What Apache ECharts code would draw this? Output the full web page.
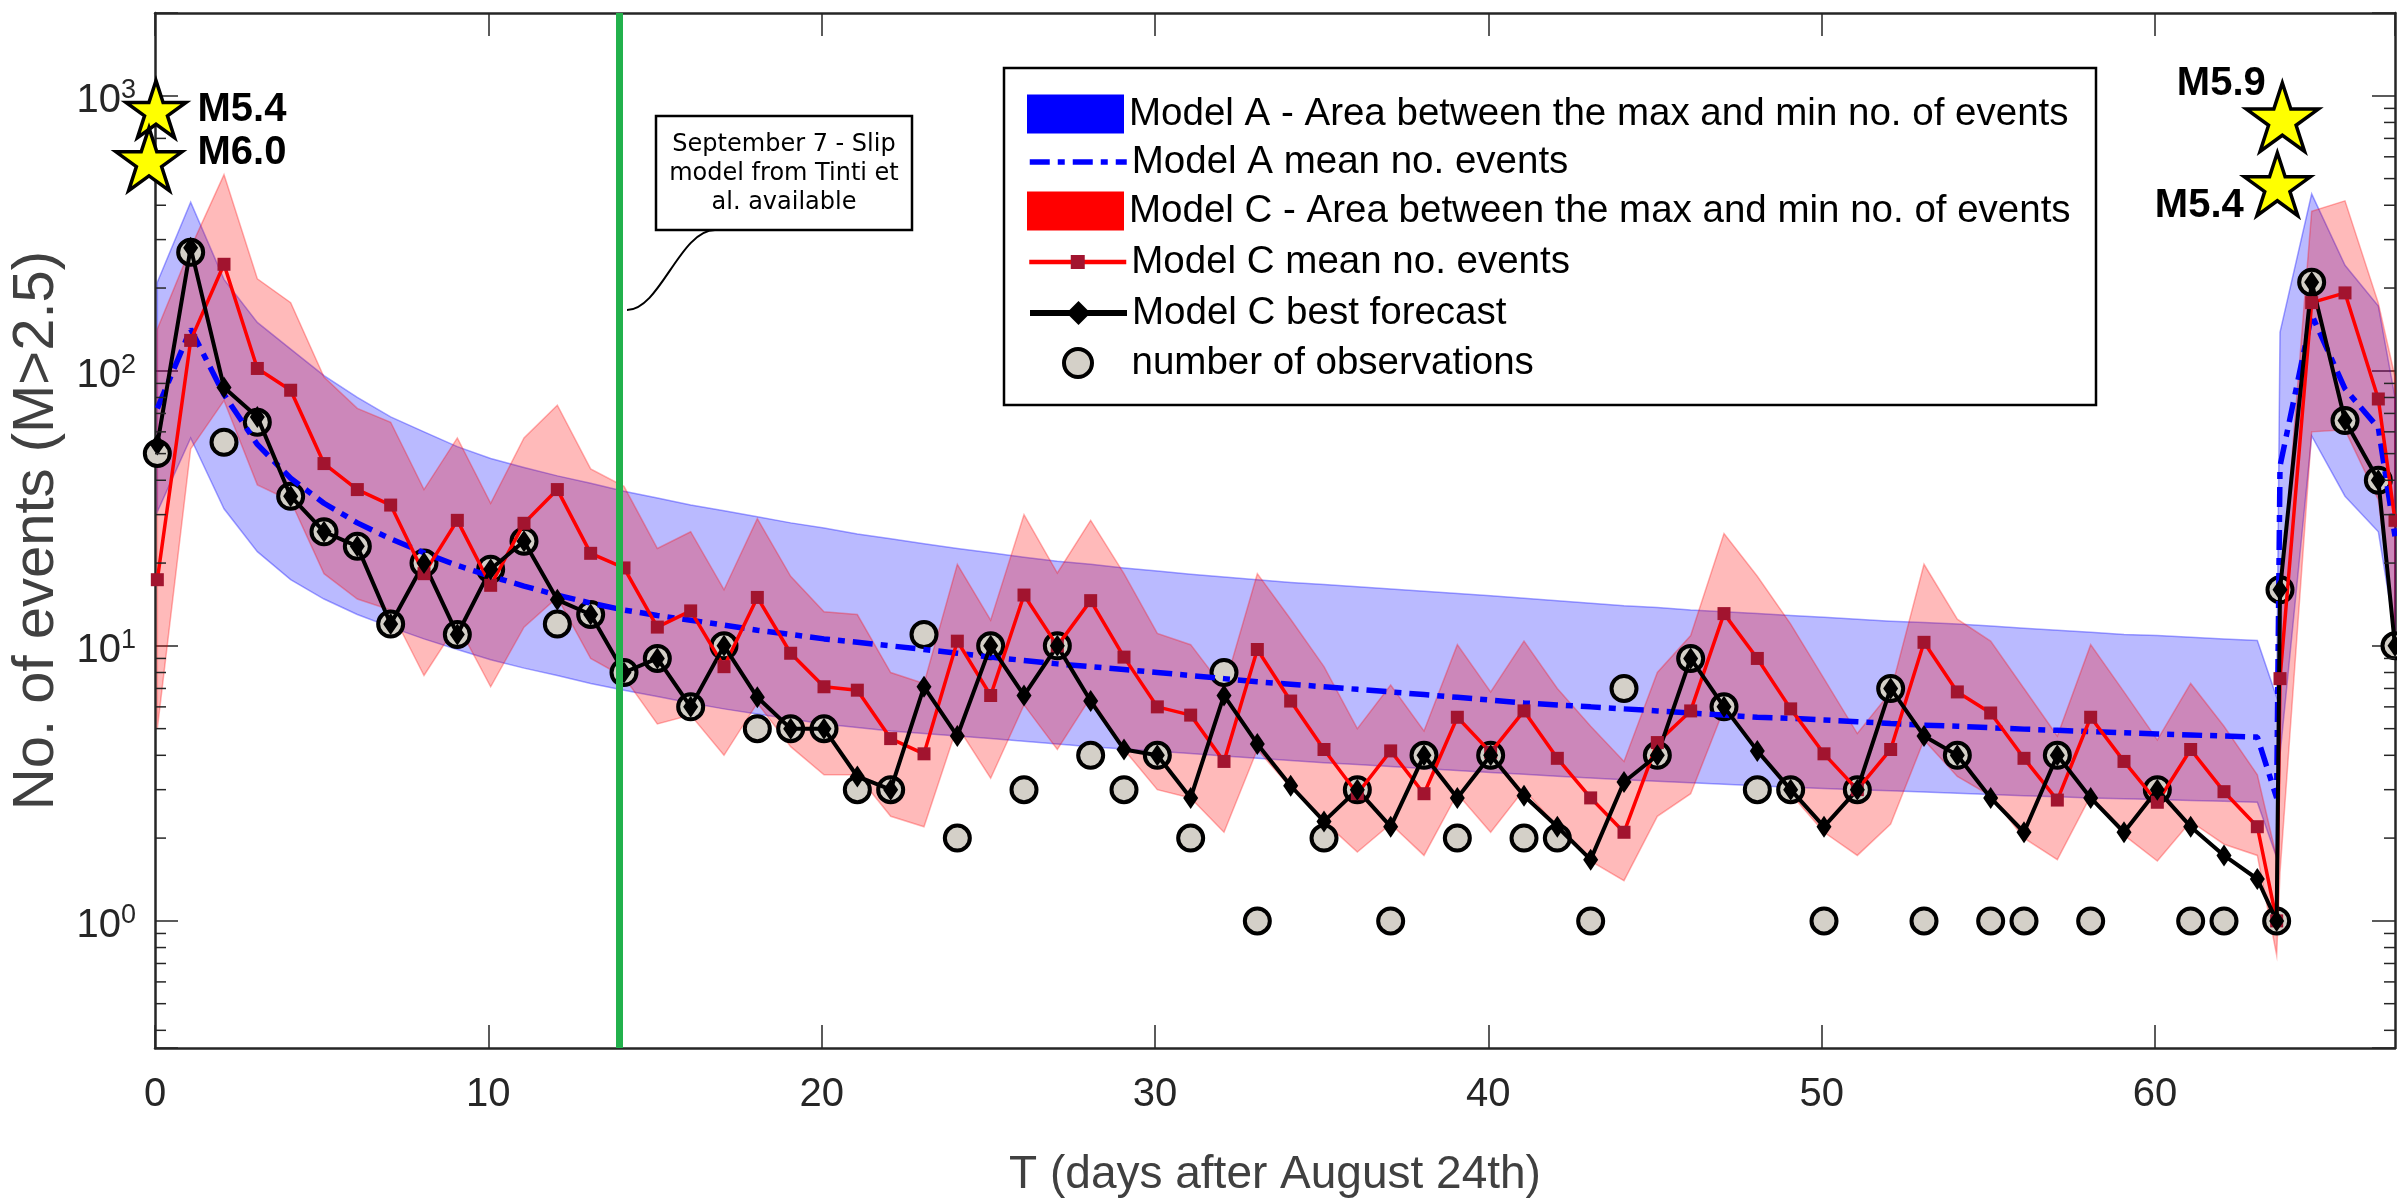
<!DOCTYPE html>
<html lang="en">
<head>
    <meta charset="UTF-8">
    <title>Model A / Model C forecasts</title>
    <script src="https://cdn.jsdelivr.net/npm/echarts@6/dist/echarts.min.js"></script>
</head>
<body style="margin: 0; background: #fff">
<div id="container" style="width: 2397px; height: 1201px"></div>

<script type="text/javascript">
    // time of each bin, days after August 24th
    var days = [0.07, 1.07, 2.07, 3.07, 4.07, 5.07, 6.07, 7.07, 8.07, 9.07,
        10.07, 11.07, 12.07, 13.07, 14.07, 15.07, 16.07, 17.07, 18.07, 19.07,
        20.07, 21.07, 22.07, 23.07, 24.07, 25.07, 26.07, 27.07, 28.07, 29.07,
        30.07, 31.07, 32.07, 33.07, 34.07, 35.07, 36.07, 37.07, 38.07, 39.07,
        40.07, 41.07, 42.07, 43.07, 44.07, 45.07, 46.07, 47.07, 48.07, 49.07,
        50.07, 51.07, 52.07, 53.07, 54.07, 55.07, 56.07, 57.07, 58.07, 59.07,
        60.07, 61.07, 62.07, 63.07, 63.65, 63.75, 64.7, 65.7, 66.7, 67.2];

    // number of observed events (null = none)
    var observed = [50, 270, 55, 65, 35, 26, 23, 12, 20, 11,
        19, 24, 12, 13, 8, 9, 6, 10, 5, 5,
        5, 3, 3, 11, 2, 10, 3, 10, 4, 3,
        4, 2, 8, 1, null, 2, 3, 1, 4, 2,
        4, 2, 2, 1, 7, 4, 9, 6, 3, 3,
        1, 3, 7, 1, 4, 1, 1, 4, 1, null,
        3, 1, 1, null, 1, 16, 210, 66, 40, 10];

    var modelCMean = [17.4, 129, 244, 102, 85, 46, 37, 32.5, 18.3, 28.6,
        16.6, 27.9, 37, 21.7, 19.2, 11.7, 13.4, 8.4, 15, 9.4,
        7.1, 6.9, 4.6, 4.05, 10.4, 6.6, 15.3, 10, 14.6, 9.1,
        6.0, 5.6, 3.8, 9.7, 6.3, 4.2, 2.9, 4.15, 2.9, 5.5,
        4.1, 5.8, 3.9, 2.8, 2.1, 4.45, 5.8, 13.1, 9.0, 5.9,
        4.05, 3.0, 4.2, 10.3, 6.8, 5.7, 3.9, 2.75, 5.5, 3.8,
        2.7, 4.2, 2.95, 2.2, 1.0, 7.6, 177, 192, 79, 28.6];

    var modelCBest = [54, 280, 87, 68, 35, 26, 23, 12, 20, 11,
        19, 24, 14.7, 13, 8, 9, 6, 10, 6.5, 5,
        5, 3.35, 3, 7.1, 4.7, 10, 6.6, 10, 6.3, 4.2,
        4, 2.8, 6.6, 4.4, 3.1, 2.3, 3, 2.2, 4, 2.8,
        4, 2.85, 2.2, 1.67, 3.2, 4, 9, 6, 4.15, 3,
        2.2, 3, 7, 4.7, 4, 2.8, 2.1, 4, 2.8, 2.1,
        3, 2.2, 1.73, 1.42, 1, 16, 210, 66, 40, 10];

    var modelCMax = [142, 280, 517, 216, 177, 95, 73, 65, 37, 57,
        33, 57, 75, 44, 38, 22.6, 26, 16, 29, 17.9,
        13.3, 13, 8.0, 7.3, 19.8, 12.4, 30, 18.4, 28.6, 18.3,
        11.1, 10.1, 7, 18.3, 12.5, 8.4, 5.0, 7.2, 4.9, 10.1,
        6.8, 10.4, 7.0, 5.1, 3.8, 8.0, 10.9, 25.6, 17.9, 12,
        7.6, 4.8, 6.8, 19.8, 12.5, 10.4, 7.0, 4.7, 10.1, 6.8,
        4.55, 7.3, 5.1, 3.4, 1.7, 14, 380, 415, 176, 95];

    var modelCMin = [5.0, 52, 78, 38.5, 33.7, 18.3, 14.8, 13.5, 7.8, 12,
        7.1, 11.7, 15, 9.0, 7.7, 5.2, 5.6, 4.0, 6.2, 4.3,
        3.4, 3.4, 2.4, 2.2, 5.1, 3.3, 6.1, 4.2, 6.5, 4.2,
        3.0, 2.8, 2.1, 4.2, 3.05, 2.3, 1.78, 2.25, 1.73, 2.9,
        2.1, 3.0, 2.2, 1.65, 1.4, 2.4, 2.9, 5.9, 4.2, 2.9,
        2.1, 1.73, 2.25, 4.55, 3.35, 2.85, 2.0, 1.67, 2.85, 2.05,
        1.65, 2.3, 1.9, 1.73, 0.75, 1.5, 60, 61, 34, 11];

    var modelAMax = [210, 410, 215, 150, 120, 96, 80, 68, 60, 53,
        48, 44.5, 41.5, 39, 36.5, 34.5, 32.5, 31, 29.5, 28,
        26.8, 25.5, 24.5, 23.5, 22.6, 21.8, 21, 20.3, 19.8, 19.2,
        18.7, 18.2, 17.8, 17.4, 17, 16.7, 16.4, 16.1, 15.8, 15.5,
        15.2, 14.9, 14.6, 14.3, 14.0, 13.8, 13.5, 13.3, 13.1, 12.9,
        12.7, 12.5, 12.3, 12.15, 12, 11.8, 11.6, 11.4, 11.2, 11.0,
        10.9, 10.75, 10.6, 10.45, 6.5, 138, 440, 242, 172, 80];

    var modelAMin = [30.7, 57, 31.5, 22, 17.4, 14.8, 13, 11.7, 10.6, 9.7,
        8.9, 8.3, 7.8, 7.3, 6.9, 6.55, 6.2, 5.9, 5.65, 5.42,
        5.2, 5.05, 4.9, 4.8, 4.7, 4.6, 4.5, 4.4, 4.3, 4.22,
        4.14, 4.06, 3.98, 3.9, 3.83, 3.76, 3.7, 3.64, 3.58, 3.52,
        3.46, 3.41, 3.36, 3.31, 3.26, 3.22, 3.18, 3.14, 3.1, 3.06,
        3.03, 3.0, 2.97, 2.94, 2.91, 2.88, 2.85, 2.83, 2.8, 2.78,
        2.76, 2.74, 2.72, 2.7, 1.7, 4, 58, 35, 26, 11];

    var modelAMean = [73, 142, 82, 54, 40.7, 33, 28, 24.5, 21.8, 19.6,
        17.9, 16.5, 15.3, 14.3, 13.5, 12.9, 12.4, 11.9, 11.4, 11.0,
        10.6, 10.3, 10.0, 9.7, 9.4, 9.1, 8.85, 8.6, 8.4, 8.2,
        8.0, 7.8, 7.6, 7.4, 7.25, 7.1, 6.95, 6.8, 6.65, 6.5,
        6.35, 6.2, 6.1, 6.0, 5.9, 5.8, 5.7, 5.6, 5.5, 5.45,
        5.38, 5.3, 5.22, 5.15, 5.1, 5.04, 4.98, 4.93, 4.88, 4.83,
        4.78, 4.74, 4.7, 4.66, 2.8, 45, 160, 86, 62, 25];

    // main shocks drawn as stars
    var shockLabels = ['M5.4', 'M6.0', 'M5.9', 'M5.4'];
    var shockDays = [0.03, -0.18, 63.82, 63.67];
    var shockLevels = [894, 588, 836, 477];

    var slipModelDay = 13.93;
    var minorTicks = [0.4, 0.5, 0.6, 0.7, 0.8, 0.9,
        2, 3, 4, 5, 6, 7, 8, 9,
        20, 30, 40, 50, 60, 70, 80, 90,
        200, 300, 400, 500, 600, 700, 800, 900];

    var N_AREA_A = 'Model A - Area between the max and min no. of events';
    var N_MEAN_A = 'Model A mean no. events';
    var N_AREA_C = 'Model C - Area between the max and min no. of events';
    var N_MEAN_C = 'Model C mean no. events';
    var N_BEST_C = 'Model C best forecast';
    var N_OBS = 'number of observations';

    var AXIS_COLOR = '#262626';
    var FONT = 'Liberation Sans';

    function pairs(ys) {
        var out = [];
        for (var i = 0; i < days.length; i++) {
            if (ys[i] != null) out.push([days[i], ys[i]]);
        }
        return out;
    }

    function bandData(lo, hi) {
        return days.map(function (d, i) { return [d, lo[i], hi[i]]; });
    }

    // one polygon for the whole band, drawn through the axis scales
    function bandRenderer(lo, hi, fill, stroke) {
        return function (params, api) {
            if (params.dataIndex !== 0) return;
            var pts = [];
            for (var i = 0; i < days.length; i++) pts.push(api.coord([days[i], hi[i]]));
            for (var j = days.length - 1; j >= 0; j--) pts.push(api.coord([days[j], lo[j]]));
            return {
                type: 'polygon',
                shape: {points: pts},
                style: {fill: fill, stroke: stroke, lineWidth: 1.5}
            };
        };
    }

    var starPath = 'path://M100,0L122.45,69.1L195.1,69.1L136.33,111.8L158.78,180.9L100,138.2L41.22,180.9L63.67,111.8L4.9,69.1L77.55,69.1Z';
    var starSizes = [60, 66, 72, 66];
    var starLabelOffsets = [[86, 1], [93, -6], [-61, -33], [-78, 22]];

    var dom = document.getElementById('container');
    var myChart = echarts.init(dom, null, {renderer: 'canvas'});

    var legendBase = {
        orient: 'vertical',
        left: 1027,
        padding: 0,
        itemWidth: 97,
        selectedMode: false,
        textStyle: {fontSize: 38.5, lineHeight: 39, color: '#000', fontFamily: FONT}
    };

    // the legend box is laid out by its bounding rect, whose height is the 39px text line
    function legendRow(centerY, itemHeight, item, left) {
        return Object.assign({}, legendBase, {
            top: centerY - 19.5,
            left: left || legendBase.left,
            itemHeight: itemHeight,
            data: [item]
        });
    }

    var xAxisBase = {
        type: 'value',
        min: 0,
        max: 67.2,
        interval: 10,
        axisLine: {show: true, onZero: false, lineStyle: {color: AXIS_COLOR, width: 2.5}},
        axisTick: {show: true, inside: true, length: 23, lineStyle: {color: AXIS_COLOR, width: 1.5}},
        splitLine: {show: false}
    };

    var yAxisBase = {
        type: 'log',
        min: 0.345,
        max: 2000,
        axisLine: {show: true, onZero: false, lineStyle: {color: AXIS_COLOR, width: 2.5}},
        axisTick: {show: true, inside: true, length: 23, lineStyle: {color: AXIS_COLOR, width: 1.5}},
        splitLine: {show: false},
        minorTick: {show: false}
    };

    var option = {
        animation: false,
        backgroundColor: '#fff',
        grid: {left: 155, right: 2, top: 13, bottom: 153, containLabel: false, outerBoundsMode: 'none'},
        xAxis: [
            Object.assign({}, xAxisBase, {
                position: 'bottom',
                axisLabel: {fontSize: 40, color: AXIS_COLOR, fontFamily: FONT, margin: 27, showMaxLabel: false},
                name: 'T (days after August 24th)',
                nameLocation: 'middle',
                nameGap: 104,
                nameTextStyle: {fontSize: 46, color: '#404040', fontFamily: FONT}
            }),
            Object.assign({}, xAxisBase, {position: 'top', axisLabel: {show: false}})
        ],
        yAxis: [
            Object.assign({}, yAxisBase, {
                position: 'left',
                axisLabel: {
                    margin: 19,
                    formatter: function (v) {
                        var e = Math.round(Math.log(v) / Math.LN10);
                        var p = Math.pow(10, e);
                        if (Math.abs(v - p) > 1e-6 * p) return '';
                        return '{b|10}{s|' + e + '}';
                    },
                    rich: {
                        b: {fontSize: 40, lineHeight: 46, padding: [10, 0, 0, 0], color: AXIS_COLOR, fontFamily: FONT},
                        s: {fontSize: 27, lineHeight: 27, padding: [4, 0, 0, 0], verticalAlign: 'top', color: AXIS_COLOR, fontFamily: FONT}
                    }
                },
                name: 'No. of events (M>2.5)',
                nameLocation: 'middle',
                nameGap: 86,
                nameTextStyle: {fontSize: 58, color: '#404040', fontFamily: FONT}
            }),
            Object.assign({}, yAxisBase, {position: 'right', axisLabel: {show: false}})
        ],
        legend: [
            legendRow(114, 39, {name: N_AREA_A, icon: 'rect', itemStyle: {color: '#0000ff', opacity: 1, borderWidth: 0}}),
            legendRow(162, 39, {name: N_MEAN_A, itemStyle: {opacity: 0}, lineStyle: {color: '#0000ff', width: 5.5, type: [20, 8, 7, 8], opacity: 1}}),
            legendRow(211, 39, {name: N_AREA_C, icon: 'rect', itemStyle: {color: '#ff0000', opacity: 1, borderWidth: 0}}),
            legendRow(262, 17.5, {name: N_MEAN_C, itemStyle: {color: '#a2142f', opacity: 1, borderWidth: 0}, lineStyle: {color: '#ff0000', width: 4.5, opacity: 1}}),
            legendRow(313, 30, {name: N_BEST_C, itemStyle: {color: '#000', opacity: 1, borderWidth: 0}, lineStyle: {color: '#000', width: 6, opacity: 1}}),
            legendRow(363, 28, {name: N_OBS, icon: 'circle', itemStyle: {color: '#d4d0c8', borderColor: '#000', borderWidth: 4, opacity: 1}}, 1062)
        ],
        graphic: [
            {
                type: 'rect', silent: true, z: 3,
                shape: {x: 1004, y: 68, width: 1092, height: 337},
                style: {fill: '#fff', stroke: '#000', lineWidth: 2.5}
            },
            {
                type: 'rect', silent: true, z: 3,
                shape: {x: 656, y: 116, width: 256, height: 114},
                style: {fill: '#fff', stroke: '#000', lineWidth: 2.5}
            },
            {
                type: 'text', silent: true, z: 4,
                x: 784, y: 174,
                style: {
                    text: 'September 7 - Slip\nmodel from Tinti et\nal. available',
                    align: 'center', verticalAlign: 'middle',
                    font: '24px "DejaVu Sans"', lineHeight: 29, fill: '#000'
                }
            },
            {
                type: 'bezierCurve', silent: true, z: 4,
                shape: {x1: 715, y1: 230, cpx1: 680, cpy1: 230, cpx2: 660, cpy2: 310, x2: 627, y2: 310},
                style: {stroke: '#000', lineWidth: 2, fill: null}
            }
        ],
        series: [
            {
                name: N_AREA_A,
                type: 'custom',
                silent: true,
                itemStyle: {color: '#0000ff'},
                data: bandData(modelAMin, modelAMax),
                encode: {x: 0, y: [1, 2]},
                renderItem: bandRenderer(modelAMin, modelAMax, 'rgba(0,0,255,0.27)', 'rgba(0,0,255,0.35)')
            },
            {
                name: N_MEAN_A,
                type: 'line',
                silent: true,
                symbol: 'none',
                data: pairs(modelAMean),
                itemStyle: {color: '#0000ff'},
                lineStyle: {color: '#0000ff', width: 5.5, type: [20, 8, 7, 8], cap: 'butt'}
            },
            {
                name: N_AREA_C,
                type: 'custom',
                silent: true,
                itemStyle: {color: '#ff0000'},
                data: bandData(modelCMin, modelCMax),
                encode: {x: 0, y: [1, 2]},
                renderItem: bandRenderer(modelCMin, modelCMax, 'rgba(255,0,0,0.27)', 'rgba(255,0,0,0.3)')
            },
            {
                name: N_MEAN_C,
                type: 'line',
                silent: true,
                symbol: 'rect',
                symbolSize: 13,
                data: pairs(modelCMean),
                itemStyle: {color: '#a2142f'},
                lineStyle: {color: '#ff0000', width: 3.5}
            },
            {
                name: N_BEST_C,
                type: 'line',
                silent: true,
                symbol: 'diamond',
                symbolSize: [15, 22],
                data: pairs(modelCBest),
                itemStyle: {color: '#000'},
                lineStyle: {color: '#000', width: 4}
            },
            {
                name: N_OBS,
                type: 'scatter',
                silent: true,
                symbol: 'circle',
                symbolSize: 25,
                data: pairs(observed),
                itemStyle: {color: '#d4d0c8', borderColor: '#000', borderWidth: 4, opacity: 1}
            },
            {
                type: 'custom',
                silent: true,
                z: 5,
                data: minorTicks.map(function (v) { return [0, v]; }),
                encode: {x: 0, y: 1},
                renderItem: function (params, api) {
                    var y = api.coord([0, api.value(1)])[1];
                    var cs = params.coordSys;
                    return {
                        type: 'group',
                        children: [
                            {type: 'line', shape: {x1: cs.x, y1: y, x2: cs.x + 11, y2: y}, style: {stroke: AXIS_COLOR, lineWidth: 1.5}},
                            {type: 'line', shape: {x1: cs.x + cs.width, y1: y, x2: cs.x + cs.width - 11, y2: y}, style: {stroke: AXIS_COLOR, lineWidth: 1.5}}
                        ]
                    };
                }
            },
            {
                type: 'scatter',
                silent: true,
                clip: false,
                z: 10,
                symbol: starPath,
                symbolKeepAspect: true,
                itemStyle: {color: '#ffff00', borderColor: '#000', borderWidth: 3.5, opacity: 1},
                label: {
                    show: true, position: 'inside', formatter: '{b}',
                    fontSize: 40, fontWeight: 'bold', color: '#000', fontFamily: FONT
                },
                data: shockLabels.map(function (name, i) {
                    return {
                        name: name,
                        value: [shockDays[i], shockLevels[i]],
                        symbolSize: starSizes[i],
                        label: {offset: starLabelOffsets[i]}
                    };
                }),
                markLine: {
                    silent: true,
                    symbol: 'none',
                    label: {show: false},
                    lineStyle: {color: '#22b14c', width: 7, type: 'solid', opacity: 1},
                    data: [{xAxis: slipModelDay}]
                }
            }
        ]
    };
    myChart.setOption(option, true);
</script>
</body>
</html>
